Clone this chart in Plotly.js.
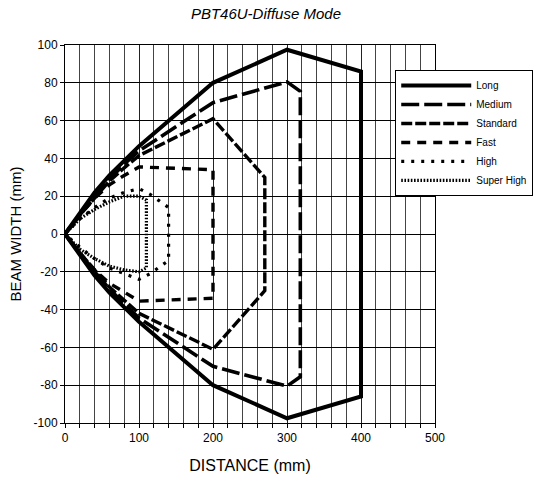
<!DOCTYPE html>
<html>
<head>
<meta charset="utf-8">
<script src="https://cdn.plot.ly/plotly-3.0.1.min.js"></script>
<style>html,body{margin:0;padding:0;background:#fff;}#chart{width:545px;height:486px;}</style>
</head>
<body>
<div id="chart"></div>
<script>
// Beam pattern data (distance mm, beam width mm)
var longX = [0, 20, 40, 60, 80, 100, 200, 300, 400, 400, 300, 200, 100, 80, 60, 40, 20, 0];
var longY = [0, 11, 22, 31, 39, 46.5, 80, 97.5, 86, -86, -97.5, -80, -46.5, -39, -31, -22, -11, 0];

var mediumX = [0, 20, 40, 60, 80, 100, 200, 300, 318, 318, 300, 200, 100, 80, 60, 40, 20, 0];
var mediumY = [0, 10, 20, 29, 37, 44, 69.5, 80.5, 75.5, -75.5, -80.5, -70, -44.5, -37, -29, -20, -10, 0];

var standardX = [0, 20, 40, 60, 80, 100, 200, 270, 270, 200, 100, 80, 60, 40, 20, 0];
var standardY = [0, 10, 19, 28, 35, 41.5, 61, 30, -30, -61, -42, -35, -28, -19, -10, 0];

var fastX = [0, 20, 40, 60, 80, 100, 200, 200, 100, 80, 60, 40, 20, 0];
var fastY = [0, 10, 19, 26, 31, 35.5, 34, -34, -35.5, -31, -26, -19, -10, 0];

var highX = [0, 20, 40, 60, 80, 100, 115, 130, 140, 140, 130, 115, 100, 80, 60, 40, 20, 0];
var highY = [0, 8, 14, 19, 22, 24, 21, 17, 14, -14, -17, -21, -24, -21, -18, -13, -7, 0];

var superX = [0, 20, 40, 60, 80, 100, 110, 110, 100, 80, 60, 40, 20, 0];
var superY = [0, 8, 13, 17, 20, 20, 18, -18, -20, -19, -17, -13, -8, 0];

var seriesNames = ["Long", "Medium", "Standard", "Fast", "High", "Super High"];

var xTicks = [0, 100, 200, 300, 400, 500];
var yTicks = [-100, -80, -60, -40, -20, 0, 20, 40, 60, 80, 100];

var font = "Liberation Sans, Arial, sans-serif";

function tr(x, y, name, width, dash) {
  return {x: x, y: y, name: name, type: "scatter", mode: "lines",
          line: {color: "#000", width: width, dash: dash}};
}

var data = [
  tr(longX, longY, seriesNames[0], 4, "solid"),
  tr(mediumX, mediumY, seriesNames[1], 3.6, "18px,5px"),
  tr(standardX, standardY, seriesNames[2], 3.4, "11px,3px"),
  tr(fastX, fastY, seriesNames[3], 3.4, "9px,7px"),
  tr(highX, highY, seriesNames[4], 3.2, "3px,7px"),
  tr(superX, superY, seriesNames[5], 3.2, "1.6px,1.6px")
];

var layout = {
  width: 545, height: 486,
  margin: {l: 65, r: 108, t: 45, b: 63},
  paper_bgcolor: "#fff", plot_bgcolor: "#fff",
  font: {family: font, color: "#000", size: 12},
  title: {text: "<i>PBT46U-Diffuse Mode</i>", font: {family: font, size: 15, color: "#000"},
          xref: "container", x: 0.488, xanchor: "center", yref: "container", y: 0.972, yanchor: "middle"},
  showlegend: true,
  legend: {x: 0.8925, xanchor: "left", y: 0.934, yanchor: "top", bgcolor: "#fff",
           bordercolor: "#000", borderwidth: 1, font: {family: font, size: 10, color: "#000"},
           itemwidth: 70, tracegroupgap: 0},
  xaxis: {range: [0, 500], tickvals: xTicks, ticktext: xTicks.map(String), showgrid: true, gridcolor: "#222", gridwidth: 1,
          minor: {dtick: 20, tick0: 0, showgrid: true, gridcolor: "#444", gridwidth: 1, ticks: "outside", ticklen: 4, tickcolor: "#000"},
          ticks: "outside", ticklen: 4, tickcolor: "#000", showline: true, linecolor: "#000", linewidth: 1, mirror: true,
          zeroline: false, tickfont: {family: font, size: 12, color: "#000"},
          title: {text: "DISTANCE (mm)", font: {family: font, size: 16, color: "#000"}, standoff: 15}},
  yaxis: {range: [-100, 100], tickvals: yTicks, ticktext: yTicks.map(String), showgrid: true, gridcolor: "#000", gridwidth: 1,
          ticks: "outside", ticklen: 4, tickcolor: "#000", showline: true, linecolor: "#000", linewidth: 1, mirror: true,
          zeroline: false, tickfont: {family: font, size: 12, color: "#000"},
          title: {text: "BEAM WIDTH (mm)", font: {family: font, size: 15, color: "#000"}, standoff: 8}}
};

Plotly.newPlot("chart", data, layout, {displayModeBar: false, staticPlot: true});
</script>
</body>
</html>
